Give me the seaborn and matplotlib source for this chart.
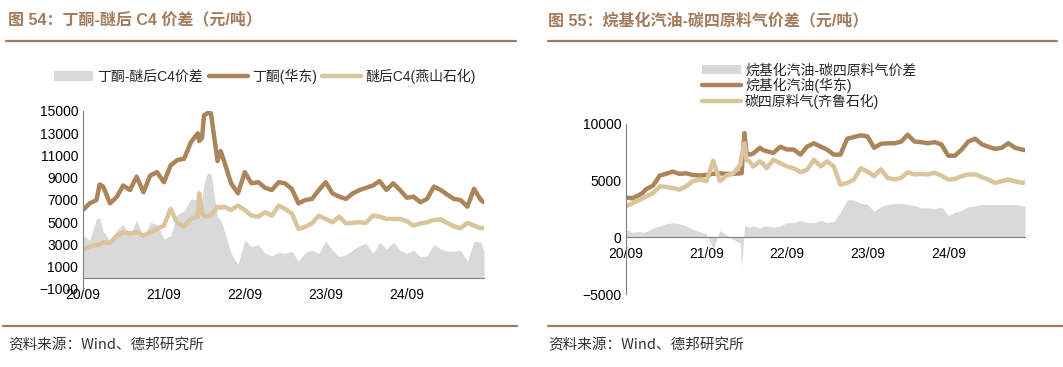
import pandas as pd
import numpy as np
import seaborn as sns
import matplotlib.pyplot as plt
import matplotlib.dates as mdates
from matplotlib.lines import Line2D

# 日期（月度 + 个别尖峰点）
dates = ["2020-09-01", "2020-10-01", "2020-11-01", "2020-11-15", "2020-12-01",
         "2021-01-01", "2021-02-01", "2021-03-01", "2021-04-01", "2021-05-01",
         "2021-06-01", "2021-07-01", "2021-08-01", "2021-09-01", "2021-10-01",
         "2021-11-01", "2021-12-01", "2022-01-01", "2022-02-01", "2022-02-07",
         "2022-02-20", "2022-03-01", "2022-03-15", "2022-04-01", "2022-05-01",
         "2022-05-15", "2022-06-01", "2022-07-01", "2022-08-01", "2022-09-01",
         "2022-10-01", "2022-11-01", "2022-12-01", "2023-01-01", "2023-02-01",
         "2023-03-01", "2023-04-01", "2023-05-01", "2023-06-01", "2023-07-01",
         "2023-08-01", "2023-09-01", "2023-10-01", "2023-11-01", "2023-12-01",
         "2024-01-01", "2024-02-01", "2024-03-01", "2024-04-01", "2024-05-01",
         "2024-06-01", "2024-07-01", "2024-08-01", "2024-09-01", "2024-10-01",
         "2024-11-01", "2024-12-01", "2025-01-01", "2025-02-01", "2025-03-01",
         "2025-04-01", "2025-05-01", "2025-06-01", "2025-07-01", "2025-08-01",
         "2025-08-15"]

# 图54：丁酮 / 醚后C4 / 价差
mek = [6100, 6700, 7000, 8400, 8200, 6700, 7300, 8300, 7900, 9100,
       7700, 9200, 9500, 8600, 10100, 10600, 10700, 12200, 13000, 12300,
       12600, 14600, 14800, 14800, 10500, 11400, 10400, 8500, 7600, 9500,
       8500, 8600, 8100, 7900, 8600, 8500, 8000, 6700, 7000, 7100,
       7900, 8600, 7600, 7300, 7100, 7600, 7900, 8100, 8300, 8700,
       7900, 8500, 7900, 7200, 7300, 6800, 7100, 8200, 7900, 7500,
       7100, 7000, 6400, 8000, 7000, 6800]
c4_ys = [2500, 2800, 2950, 3000, 3200, 3150, 3800, 4100, 4000, 4100,
         3800, 4100, 4400, 4700, 6200, 4900, 4600, 5300, 5500, 7600,
         5800, 5600, 5500, 5600, 6400, 6300, 6400, 6100, 6500, 6100,
         5600, 5500, 5900, 5600, 6500, 6200, 5800, 4400, 4600, 4900,
         5600, 5300, 5000, 5500, 4900, 4950, 5000, 4950, 5600, 5500,
         5300, 5300, 5300, 5100, 4700, 4900, 5000, 5200, 5250, 4950,
         4650, 4450, 4950, 4700, 4450, 4500]
gap54 = [3800, 3400, 5300, 5400, 4200, 3300, 4300, 4800, 3800, 5200,
         3600, 5000, 4800, 3500, 3800, 5700, 6000, 7100, 7000, 6800,
         7200, 8500, 9400, 9400, 5500, 5200, 4200, 2200, 1200, 3400,
         2800, 3000, 2200, 2000, 2300, 2200, 2400, 1500, 2300, 2500,
         2200, 3300, 2500, 1900, 2100, 2500, 2900, 3100, 2200, 3200,
         2600, 3200, 2500, 2200, 2500, 1900, 2000, 3000, 2600, 2400,
         2400, 2500, 1500, 3300, 3200, 2300]

# 图55：烷基化汽油 / 碳四原料气 / 价差
alky = [3500, 3450, 3750, 3900, 4250, 4550, 5450, 5600, 5800, 5600,
        5650, 5500, 5450, 5500, 5600, 5650, 5600, 5600, 5650, 5650,
        9200, 7450, 7300, 7400, 7900, 7700, 7600, 7450, 8000, 7750,
        7750, 7300, 8000, 8300, 8000, 7750, 7300, 7300, 8700, 8850,
        9000, 8900, 7900, 8250, 8300, 8300, 8450, 9050, 8450, 8400,
        8300, 8400, 8200, 7200, 7200, 7750, 8450, 8700, 8200, 8000,
        7800, 7900, 8300, 7900, 7750, 7700]
c4_raw = [2750, 3000, 3300, 3450, 3600, 3900, 4500, 4450, 4350, 4200,
          4500, 4950, 5100, 4950, 6750, 4950, 5450, 5650, 6400, 7200,
          8300, 6850, 6700, 6250, 6700, 6500, 6100, 6850, 6550, 6250,
          6100, 5750, 5950, 6850, 6250, 6700, 6250, 4650, 4800, 5100,
          6100, 5800, 5400, 6000, 5250, 5100, 5250, 5750, 5550, 5600,
          5550, 5700, 5450, 5100, 5150, 5400, 5550, 5550, 5300, 5100,
          4800, 4950, 5100, 4950, 4800, 4850]
gap55 = [700, 450, 500, 450, 500, 800, 1000, 1200, 1300, 1200,
         1000, 700, 500, 300, -1000, 600, 200, -200, -500, -2700,
         1000, 1000, 900, 1000, 800, 1000, 1000, 900, 1000, 1300,
         1300, 1500, 1300, 1300, 1500, 1300, 1400, 2200, 3300, 3300,
         3000, 2900, 2300, 2700, 2900, 3000, 3000, 2900, 2800, 2600,
         2600, 2500, 2700, 1900, 2200, 2400, 2700, 2800, 2900, 2900,
         2900, 2900, 2900, 2900, 2800, 2800]

BROWN = "#AB8459"
TAN = "#D9C49B"
GREY = "#D9D9D9"
TITLE_C = "#A27B5B"

sns.set_theme(style="white")
plt.rcParams["font.family"] = ["Liberation Sans", "Noto Sans CJK SC"]

fig = plt.figure(figsize=(10.63, 3.67), dpi=100)
W, H = 1063, 367
d = pd.to_datetime(dates)


def draw(rect, gap, a, b, labels, yticks):
    ax = fig.add_axes(rect)
    ax.fill_between(d, 0, gap, color=GREY, lw=0, label=labels[0])
    sns.lineplot(x=d, y=a, ax=ax, color=BROWN, lw=3.2, label=labels[1])
    sns.lineplot(x=d, y=b, ax=ax, color=TAN, lw=3.2, label=labels[2])
    ax.set_xlim(d[0], d[-1])
    ax.set_ylim(yticks[0], yticks[-1])
    ax.set_yticks(yticks)
    ax.set_xticks(pd.to_datetime(["2020-09-01", "2021-09-01", "2022-09-01",
                                  "2023-09-01", "2024-09-01"]))
    ax.xaxis.set_major_formatter(mdates.DateFormatter("%y/%m"))
    for s in ["top", "right"]:
        ax.spines[s].set_visible(False)
    for s in ["left", "bottom"]:
        ax.spines[s].set_color("#7f7f7f")
        ax.spines[s].set_linewidth(0.8)
    ax.spines["bottom"].set_position(("data", 0))
    ax.tick_params(axis="both", direction="in", length=4, width=0.8,
                   color="#7f7f7f", labelsize=10, labelcolor="black")
    ax.tick_params(axis="x", pad=7)
    ax.set_xlabel("")
    ax.set_ylabel("")
    ax.grid(False)
    ax.get_legend().remove()
    return ax


ax1 = draw([83 / W, 1 - 289 / H, 401 / W, 178 / H], gap54, mek, c4_ys,
           ["丁酮-醚后C4价差", "丁酮(华东)", "醚后C4(燕山石化)"],
           list(range(-1000, 15001, 2000)))
ax2 = draw([626 / W, 1 - 294 / H, 399 / W, 170 / H], gap55, alky, c4_raw,
           ["烷基化汽油-碳四原料气价差", "烷基化汽油(华东)", "碳四原料气(齐鲁石化)"],
           [-5000, 0, 5000, 10000])

for ax, kw in [(ax1, dict(loc="center", bbox_to_anchor=(265 / W, 1 - 76 / H), ncol=3,
                          columnspacing=0.4)),
               (ax2, dict(loc="center left", bbox_to_anchor=(702 / W, 1 - 86 / H), ncol=1,
                          labelspacing=0.02))]:
    h, l = ax.get_legend_handles_labels()
    order = [l.index(x) for x in l if x.endswith("价差")] + \
            [i for i, x in enumerate(l) if not x.endswith("价差")]
    ax.legend([h[i] for i in order], [l[i] for i in order], frameon=False,
              bbox_transform=fig.transFigure, handlelength=2.8, handletextpad=0.3,
              fontsize=10, borderaxespad=0, borderpad=0, **kw)

# 标题与分隔线
fig.text(8 / W, 1 - 20 / H, "图 54：丁酮-醚后 C4 价差（元/吨）", fontsize=11.5,
         weight="bold", color=TITLE_C, va="center")
fig.text(548 / W, 1 - 20 / H, "图 55：烷基化汽油-碳四原料气价差（元/吨）", fontsize=11.5,
         weight="bold", color=TITLE_C, va="center")
for x0, x1 in [(6, 516), (548, 1057)]:
    fig.add_artist(Line2D([x0 / W, x1 / W], [1 - 41 / H] * 2, color=TITLE_C, lw=1.6))
for x0, x1 in [(3, 517), (548, 1063)]:
    fig.add_artist(Line2D([x0 / W, x1 / W], [1 - 326 / H] * 2, color=TITLE_C, lw=1.6))
for x0 in [8, 548]:
    fig.text(x0 / W, 1 - 345 / H, "资料来源：Wind、德邦研究所", fontsize=10.5,
             color="#333333", va="center", family=["Noto Sans CJK SC", "DejaVu Sans"])

fig.savefig("out.png", dpi=100)
